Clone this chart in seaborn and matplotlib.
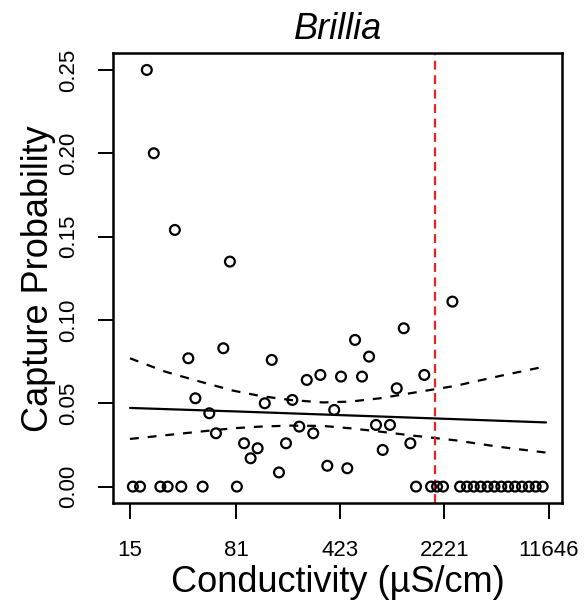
import matplotlib

matplotlib.use("Agg")
import matplotlib.pyplot as plt
import numpy as np
import pandas as pd
import seaborn as sns
from matplotlib.ticker import NullLocator

cond = [
    19.6, 21.9, 30.6, 73.4, 37.9, 66.1, 142.7, 42.4, 52.9, 58.8,
    127.7, 198, 249, 309, 429, 385, 221, 276, 91.9, 114,
    102, 179, 160, 345, 474, 2519, 1162, 536, 670, 599,
    1612, 1040, 748, 934, 832, 1291,
    15.7, 17.6, 24.3, 27.3, 33.9, 47.6, 82,
    1413, 1794, 1973, 2170,
    2844, 3172, 3538, 3946, 4404, 4911, 5475, 6109, 6819, 7605, 8484, 9463, 10566,
]
prob = [
    0.250, 0.200, 0.154, 0.135, 0.077, 0.083, 0.076, 0.053, 0.044, 0.032,
    0.050, 0.052, 0.064, 0.067, 0.066, 0.046, 0.036, 0.032, 0.026, 0.023,
    0.017, 0.026, 0.0085, 0.0125, 0.011, 0.111, 0.095, 0.088, 0.078, 0.066,
    0.067, 0.059, 0.037, 0.037, 0.022, 0.026,
    0, 0, 0, 0, 0, 0, 0,
    0, 0, 0, 0,
    0, 0, 0, 0, 0, 0, 0, 0, 0, 0, 0, 0, 0,
]

# fitted curve and confidence band
fit_cond = [15, 81, 423, 2221, 11154]
fit_prob = [0.0472, 0.0451, 0.0429, 0.0407, 0.0385]

band_cond = [15, 26.2, 45.6, 77.1, 118.7, 190.7, 322, 495, 798, 1285, 2625, 5367, 11154]
band_hi = [0.0770, 0.0690, 0.0630, 0.0576, 0.0544, 0.0520, 0.0505, 0.0510,
           0.0530, 0.0560, 0.0604, 0.0664, 0.0722]
band_lo = [0.0286, 0.0308, 0.0330, 0.0350, 0.0360, 0.0366, 0.0364, 0.0350,
           0.0330, 0.0308, 0.0278, 0.0238, 0.0204]

threshold = 1920

xticks = [15, 81, 423, 2221, 11646]
yticks = [0.00, 0.05, 0.10, 0.15, 0.20, 0.25]

sns.set_style("ticks")
plt.rcParams["font.family"] = ["Liberation Sans", "DejaVu Sans"]
plt.rcParams["text.color"] = "black"
plt.rcParams["axes.labelcolor"] = "black"
plt.rcParams["xtick.color"] = "black"
plt.rcParams["ytick.color"] = "black"

df = pd.DataFrame({"cond": cond, "prob": prob})

fig = plt.figure(figsize=(5.84, 6.02), dpi=100)
ax = fig.add_axes([0.193, 0.164, 0.770, 0.7475])

sns.scatterplot(
    data=df, x="cond", y="prob", ax=ax, marker="o", s=50,
    facecolor="none", edgecolor="black", linewidth=1.6, zorder=3,
)
sns.lineplot(x=fit_cond, y=fit_prob, ax=ax, color="black", lw=1.6,
             estimator=None, sort=False)
for band in (band_hi, band_lo):
    sns.lineplot(x=band_cond, y=band, ax=ax, color="black", lw=1.6,
                 linestyle=(0, (4, 4)), estimator=None, sort=False)
ax.axvline(threshold, color="#ee2222", lw=1.6, linestyle=(0, (4, 2.5)))

ax.set_xscale("log")
ax.set_xlim(11.4, 14460)
ax.set_ylim(-0.01, 0.26)
ax.set_xticks(xticks)
ax.set_xticklabels([str(v) for v in xticks])
ax.xaxis.set_minor_locator(NullLocator())
ax.set_yticks(yticks)
ax.set_yticklabels([f"{v:.2f}" for v in yticks])

ax.tick_params(axis="x", length=11.5, width=1.4, labelsize=16, pad=15)
ax.tick_params(axis="y", length=11, width=1.4, labelsize=16, pad=13,
               labelrotation=90)
for lab in ax.get_yticklabels():
    lab.set_va("center")

for sp in ax.spines.values():
    sp.set_visible(True)
    sp.set_linewidth(1.8)
    sp.set_color("black")

ax.set_xlabel("Conductivity (µS/cm)", fontsize=26, labelpad=3)
ax.set_ylabel("Capture Probability", fontsize=26, labelpad=2)
ax.set_title("Brillia", fontsize=26, style="italic", pad=10)

fig.savefig("out.png", dpi=100)
